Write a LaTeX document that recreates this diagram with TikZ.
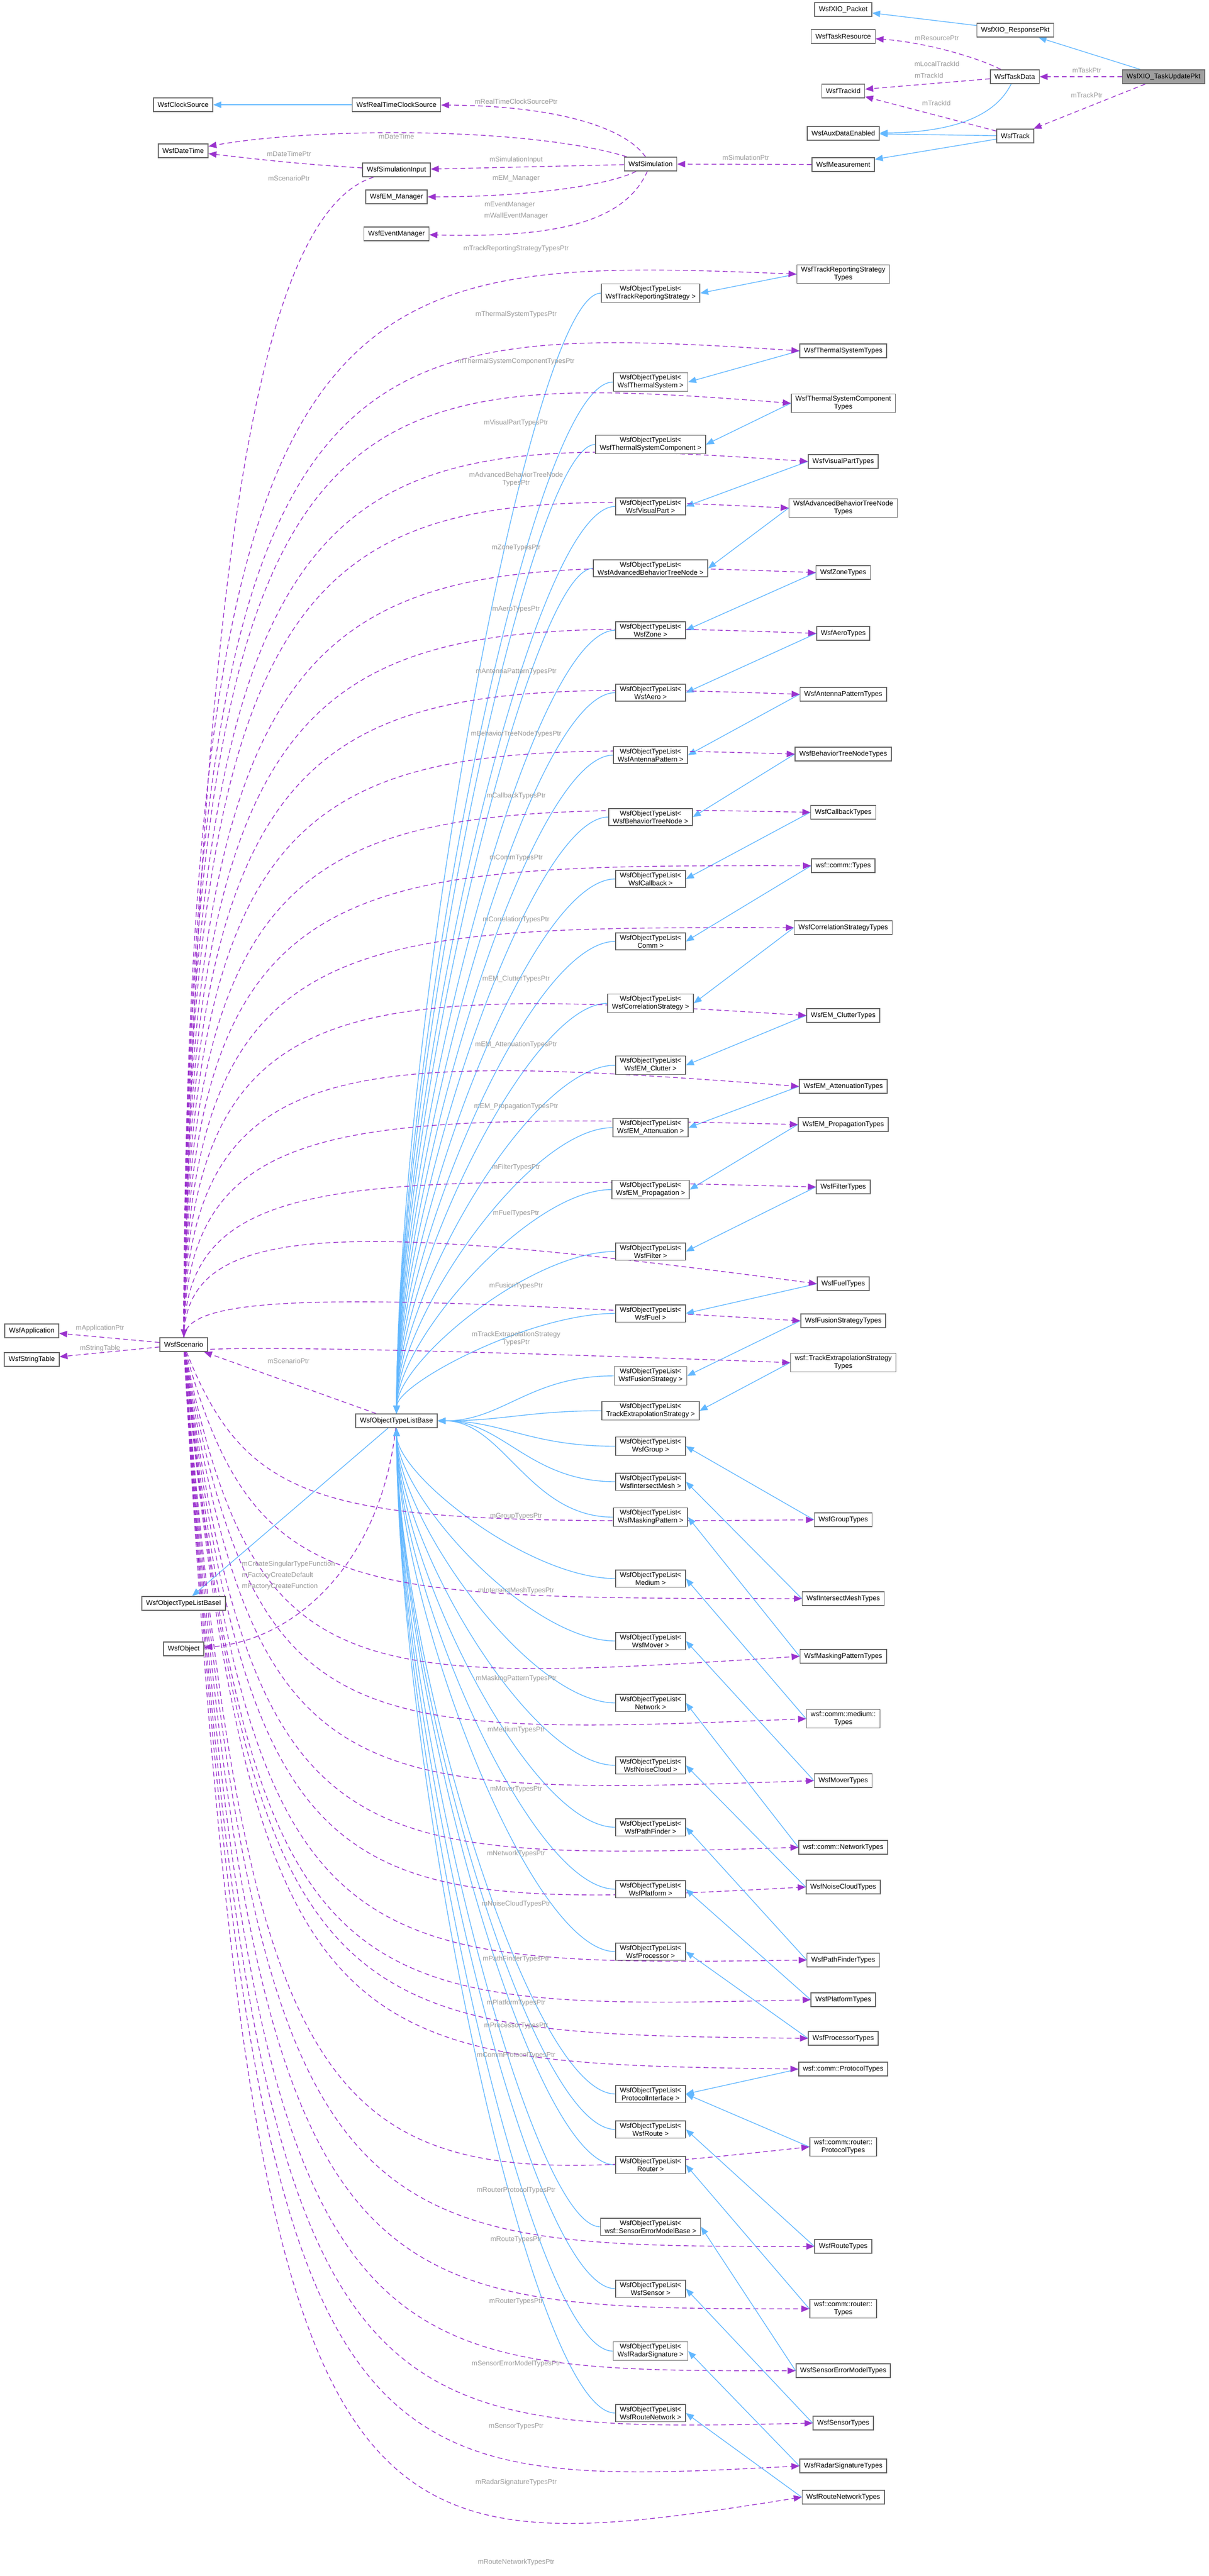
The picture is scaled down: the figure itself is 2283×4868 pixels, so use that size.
\documentclass[tikz,border=0pt]{standalone}
\usepackage{fontspec}
\setmainfont{Liberation Sans}
\usetikzlibrary{arrows.meta,calc}
\definecolor{inhc}{HTML}{63B8FF}
\definecolor{usec}{HTML}{9A32CD}
\definecolor{lblc}{HTML}{9A9A9A}
\definecolor{brd}{HTML}{666666}
\pgfdeclarelayer{bg}
\pgfsetlayers{bg,main}
\begin{document}
\begin{tikzpicture}[x=1pt,y=-1pt,
  box/.style={draw=brd,line width=1.6pt,fill=white,font=\fontsize{13}{15}\selectfont,align=center,inner xsep=8pt,inner ysep=4pt,minimum height=26pt},
  inh/.style={draw=inhc,line width=1.4pt,-{Triangle[length=15pt,width=12pt]}},
  use/.style={draw=usec,line width=1.4pt,dash pattern=on 9pt off 6pt,-{Triangle[length=15pt,width=12pt]}},
  lbl/.style={text=lblc,font=\fontsize{13}{15}\selectfont,align=center,inner sep=1pt}]
\begin{pgfonlayer}{bg}
\fill[white] (0,0) rectangle (2283,4868);
\end{pgfonlayer}
\useasboundingbox (0,0) rectangle (2283,4868);

% ---- top part
\node[box] (pkt) at (1593,18) {WsfXIO\_Packet};
\node[box] (resp) at (1918,57) {WsfXIO\_ResponsePkt};
\node[box] (tres) at (1593,69) {WsfTaskResource};
\node[box] (tdata) at (1917,145) {WsfTaskData};
\node[box,fill=gray!75] (upd) at (2198,145) {WsfXIO\_TaskUpdatePkt};
\node[box] (tid) at (1593,172) {WsfTrackId};
\node[box] (aux) at (1593,252) {WsfAuxDataEnabled};
\node[box] (trk) at (1918,257) {WsfTrack};
\node[box] (meas) at (1593,311) {WsfMeasurement};
\node[box] (sim) at (1229,310) {WsfSimulation};
\node[box] (clk) at (346,198) {WsfClockSource};
\node[box] (rtc) at (749,198) {WsfRealTimeClockSource};
\node[box] (dt) at (346,285) {WsfDateTime};
\node[box] (sinp) at (749,321) {WsfSimulationInput};
\node[box] (emm) at (749,372) {WsfEM\_Manager};
\node[box] (evm) at (749,442) {WsfEventManager};

\begin{pgfonlayer}{bg}
\draw[inh] (resp) -- (pkt);
\draw[inh] (upd) -- (resp);
\draw[use] (upd) -- (tdata);
\draw[use] (upd) -- (trk);
\draw[use] (tdata) .. controls (1850,110) and (1750,80) .. (tres);
\draw[use] (tdata) -- (tid);
\draw[use] (trk) -- (tid);
\draw[inh] (tdata) .. controls (1880,220) and (1800,250) .. (aux);
\draw[inh] (trk) -- (aux);
\draw[inh] (trk) -- (meas);
\draw[use] (meas) -- (sim);
\draw[inh] (rtc) -- (clk);
\draw[use] (sim) .. controls (1180,240) and (1050,200) .. (rtc);
\draw[use] (sim) .. controls (1000,240) and (600,240) .. (dt);
\draw[use] (sinp) .. controls (560,310) and (480,300) .. (dt);
\draw[use] (sim) -- (sinp);
\draw[use] (sim) .. controls (1150,350) and (1000,372) .. (emm);
\draw[use] (sim) .. controls (1180,420) and (1050,450) .. (evm);
\end{pgfonlayer}
\node[lbl] at (2053,133) {mTaskPtr};
\node[lbl] at (2053,180) {mTrackPtr};
\node[lbl] at (1770,72) {mResourcePtr};
\node[lbl] at (1770,121) {mLocalTrackId};
\node[lbl] at (1755,143) {mTrackId};
\node[lbl] at (1769,195) {mTrackId};
\node[lbl] at (1409,298) {mSimulationPtr};
\node[lbl] at (975,192) {mRealTimeClockSourcePtr};
\node[lbl] at (749,258) {mDateTime};
\node[lbl] at (546,291) {mDateTimePtr};
\node[lbl] at (975,302) {mSimulationInput};
\node[lbl] at (975,337) {mEM\_Manager};
\node[lbl] at (963,387) {mEventManager};
\node[lbl] at (975,408) {mWallEventManager};

% ---- left part
\node[box] (scen) at (347,2541) {WsfScenario};
\node[box] (app) at (60,2515) {WsfApplication};
\node[box] (stab) at (60,2569) {WsfStringTable};
\node[box] (base) at (749,2685) {WsfObjectTypeListBase};
\node[box] (basei) at (347,3030) {WsfObjectTypeListBaseI};
\node[box] (wobj) at (347,3116) {WsfObject};

\begin{pgfonlayer}{bg}
\draw[use] (sinp) .. controls (500,400) and (380,1000) .. (scen);
\draw[use] (scen) -- (app);
\draw[use] (scen) -- (stab);
\draw[use] (base) -- (scen);
\draw[inh] (base) -- (basei);
\draw[use] (base) .. controls (720,2950) and (560,3100) .. (wobj);
\end{pgfonlayer}
\node[lbl] at (546,337) {mScenarioPtr};
\node[lbl] at (189,2510) {mApplicationPtr};
\node[lbl] at (189,2548) {mStringTable};
\node[lbl] at (545,2572) {mScenarioPtr};
\node[lbl,align=left] at (545,2977) {mCreateSingularTypeFunction\\[6pt]mFactoryCreateDefault\\[6pt]mFactoryCreateFunction};

% ---- type lists
\foreach \i/\txt/\y in {
 1/{WsfObjectTypeList<\\ WsfTrackReportingStrategy >}/554,
 2/{WsfObjectTypeList<\\ WsfThermalSystem >}/722,
 3/{WsfObjectTypeList<\\ WsfThermalSystemComponent >}/840,
 4/{WsfObjectTypeList<\\ WsfVisualPart >}/957,
 5/{WsfObjectTypeList<\\ WsfAdvancedBehaviorTreeNode >}/1074,
 6/{WsfObjectTypeList<\\ WsfZone >}/1191,
 7/{WsfObjectTypeList<\\ WsfAero >}/1309,
 8/{WsfObjectTypeList<\\ WsfAntennaPattern >}/1427,
 9/{WsfObjectTypeList<\\ WsfBehaviorTreeNode >}/1544,
 10/{WsfObjectTypeList<\\ WsfCallback >}/1661,
 11/{WsfObjectTypeList<\\ Comm >}/1779,
 12/{WsfObjectTypeList<\\ WsfCorrelationStrategy >}/1896,
 13/{WsfObjectTypeList<\\ WsfEM\_Clutter >}/2013,
 14/{WsfObjectTypeList<\\ WsfEM\_Attenuation >}/2131,
 15/{WsfObjectTypeList<\\ WsfEM\_Propagation >}/2248,
 16/{WsfObjectTypeList<\\ WsfFilter >}/2365,
 17/{WsfObjectTypeList<\\ WsfFuel >}/2482,
 18/{WsfObjectTypeList<\\ WsfFusionStrategy >}/2600,
 19/{WsfObjectTypeList<\\ TrackExtrapolationStrategy >}/2666,
 20/{WsfObjectTypeList<\\ WsfGroup >}/2733,
 21/{WsfObjectTypeList<\\ WsfIntersectMesh >}/2800,
 22/{WsfObjectTypeList<\\ WsfMaskingPattern >}/2867,
 23/{WsfObjectTypeList<\\ Medium >}/2983,
 24/{WsfObjectTypeList<\\ WsfMover >}/3101,
 25/{WsfObjectTypeList<\\ Network >}/3218,
 26/{WsfObjectTypeList<\\ WsfNoiseCloud >}/3336,
 27/{WsfObjectTypeList<\\ WsfPathFinder >}/3453,
 28/{WsfObjectTypeList<\\ WsfPlatform >}/3570,
 29/{WsfObjectTypeList<\\ WsfProcessor >}/3688,
 30/{WsfObjectTypeList<\\ ProtocolInterface >}/3957,
 32/{WsfObjectTypeList<\\ WsfRoute >}/4024,
 33/{WsfObjectTypeList<\\ Router >}/4091,
 34/{WsfObjectTypeList<\\ wsf::SensorErrorModelBase >}/4208,
 35/{WsfObjectTypeList<\\ WsfSensor >}/4325,
 36/{WsfObjectTypeList<\\ WsfRadarSignature >}/4443,
 37/{WsfObjectTypeList<\\ WsfRouteNetwork >}/4560}{
  \node[box] (o\i) at (1229,\y) {\txt};
  \pgfmathsetmacro\dy{\y-2685}
  \pgfmathsetmacro\my{2685+0.35*\dy}
  \begin{pgfonlayer}{bg}
  \ifdim \dy pt<-200pt
    \draw[inh] (o\i.west) .. controls (1000,\y) and (752,\my) .. (base.north);
  \else\ifdim \dy pt>200pt
    \draw[inh] (o\i.west) .. controls (1000,\y) and (752,\my) .. (base.south);
  \else
    \draw[inh] (o\i.west) .. controls (1000,\y) and (950,2685) .. (base.east);
  \fi\fi
  \end{pgfonlayer}
}

\foreach \i/\txt/\ty/\lab/\ly/\o in {
 1/{WsfTrackReportingStrategy\\Types}/518/mTrackReportingStrategyTypesPtr/470/1,
 2/{WsfThermalSystemTypes}/663/mThermalSystemTypesPtr/594/2,
 3/{WsfThermalSystemComponent\\Types}/762/mThermalSystemComponentTypesPtr/683/3,
 4/{WsfVisualPartTypes}/872/mVisualPartTypesPtr/799/4,
 5/{WsfAdvancedBehaviorTreeNode\\Types}/960/{mAdvancedBehaviorTreeNode\\TypesPtr}/906/5,
 6/{WsfZoneTypes}/1082/mZoneTypesPtr/1035/6,
 7/{WsfAeroTypes}/1197/mAeroTypesPtr/1151/7,
 8/{WsfAntennaPatternTypes}/1312/mAntennaPatternTypesPtr/1269/8,
 9/{WsfBehaviorTreeNodeTypes}/1425/mBehaviorTreeNodeTypesPtr/1387/9,
 10/{WsfCallbackTypes}/1535/mCallbackTypesPtr/1504/10,
 11/{wsf::comm::Types}/1636/mCommTypesPtr/1621/11,
 12/{WsfCorrelationStrategyTypes}/1753/mCorrelationTypesPtr/1738/12,
 13/{WsfEM\_ClutterTypes}/1919/mEM\_ClutterTypesPtr/1850/13,
 14/{WsfEM\_AttenuationTypes}/2053/mEM\_AttenuationTypesPtr/1974/14,
 15/{WsfEM\_PropagationTypes}/2125/mEM\_PropagationTypesPtr/2091/15,
 16/{WsfFilterTypes}/2243/mFilterTypesPtr/2206/16,
 17/{WsfFuelTypes}/2426/mFuelTypesPtr/2293/17,
 18/{WsfFusionStrategyTypes}/2496/mFusionTypesPtr/2430/18,
 19/{wsf::TrackExtrapolationStrategy\\Types}/2575/{mTrackExtrapolationStrategy\\TypesPtr}/2530/19,
 20/{WsfGroupTypes}/2872/mGroupTypesPtr/2865/20,
 21/{WsfIntersectMeshTypes}/3021/mIntersectMeshTypesPtr/3006/21,
 22/{WsfMaskingPatternTypes}/3130/mMaskingPatternTypesPtr/3172/22,
 23/{wsf::comm::medium::\\Types}/3248/mMediumTypesPtr/3269/23,
 24/{WsfMoverTypes}/3365/mMoverTypesPtr/3381/24,
 25/{wsf::comm::NetworkTypes}/3491/mNetworkTypesPtr/3503/25,
 26/{WsfNoiseCloudTypes}/3566/mNoiseCloudTypesPtr/3598/26,
 27/{WsfPathFinderTypes}/3704/mPathFinderTypesPtr/3702/27,
 28/{WsfPlatformTypes}/3779/mPlatformTypesPtr/3785/28,
 29/{WsfProcessorTypes}/3852/mProcessorTypesPtr/3828/29,
 30/{wsf::comm::ProtocolTypes}/3910/mCommProtocolTypesPtr/3884/30,
 31/{wsf::comm::router::\\ProtocolTypes}/4057/mRouterProtocolTypesPtr/4139/30,
 32/{WsfRouteTypes}/4245/mRouteTypesPtr/4232/32,
 33/{wsf::comm::router::\\Types}/4363/mRouterTypesPtr/4349/33,
 34/{WsfSensorErrorModelTypes}/4480/mSensorErrorModelTypesPtr/4467/34,
 35/{WsfSensorTypes}/4579/mSensorTypesPtr/4585/35,
 36/{WsfRadarSignatureTypes}/4660/mRadarSignatureTypesPtr/4691/36,
 37/{WsfRouteNetworkTypes}/4719/mRouteNetworkTypesPtr/4842/37}{
  \node[box] (t\i) at (1593,\ty) {\txt};
  \pgfmathsetmacro\cy{\ly+14}
  \pgfmathsetmacro\cx{\ty>2700 ? 480 : 352}
  \begin{pgfonlayer}{bg}
  \draw[inh] (t\i.west) -- (o\o.east);
  \draw[use] (scen) .. controls (\cx,\cy) and (650,\cy) .. (t\i.west);
  \end{pgfonlayer}
  \node[lbl] at (975,\ly) {\lab};
}
\end{tikzpicture}
\end{document}
